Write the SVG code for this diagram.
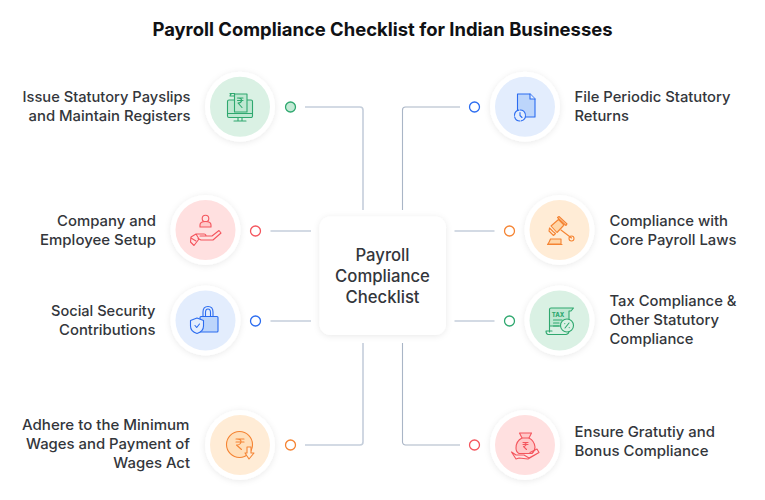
<svg xmlns="http://www.w3.org/2000/svg" width="765" height="500" viewBox="0 0 765 500">
<style>
text{font-family:"Inter","Liberation Sans",sans-serif;fill:#33363b;font-weight:500;font-size:14.7px}
.t{font-weight:700;font-size:18.45px;fill:#101114;text-anchor:middle}
.c{font-size:16.7px;text-anchor:middle}
.l{text-anchor:end}
.con{fill:none;stroke:#c5cedb;stroke-width:1.6}
.thin{stroke:#a9b5c6;stroke-width:1.1}
.halo{fill:#fff;filter:url(#s)}
.dot{fill:#fff;stroke-width:1.3}
.ic{fill:none;stroke-width:1.1;stroke-linejoin:round;stroke-linecap:round}
.g{stroke:#2fa86f}.r{stroke:#f4555d}.b{stroke:#2b6cf0}.o{stroke:#f58433}
</style>
<defs>
<filter id="s" x="-30%" y="-30%" width="160%" height="160%"><feDropShadow dx="0" dy="1" stdDeviation="3" flood-color="#000" flood-opacity=".09"/></filter>
</defs>
<rect width="765" height="500" fill="#fff"/>
<text class="t" x="382.500" y="36">Payroll Compliance Checklist for Indian Businesses</text>
<g id="connectors">
<path class="con" d="M305 107H360a3 3 0 0 1 3 3V210"/>
<path class="con" d="M305 445H360a3 3 0 0 0 3-3V343"/>
<path class="con thin" d="M460 107H405.500a3 3 0 0 0-3 3V210"/>
<path class="con thin" d="M460 445H405.500a3 3 0 0 1-3-3V343"/>
<path class="con" d="M270.500 231H311M270.500 321H311M454.500 231H494.500M454.500 321H494.500"/>
</g>
<g id="center"><rect x="319.500" y="216.500" width="126.500" height="118.500" rx="11" class="halo"/>
<text class="c" x="382.500" y="260.500">Payroll</text><text class="c" x="382.500" y="282">Compliance</text><text class="c" x="382.500" y="303.300">Checklist</text></g>

<g id="n1"><circle cx="240" cy="106.700" r="35" class="halo"/><circle cx="240" cy="106.700" r="30" fill="#daf1e4"/>
<circle cx="290.500" cy="107" r="5" stroke="#2fa86f" stroke-width="1.300" fill="#c4ead6"/>
<g class="ic g"><path d="M234 100H229a1.500 1.500 0 0 0-1.500 1.500V116a1.500 1.500 0 0 0 1.500 1.500H251a1.500 1.500 0 0 0 1.500-1.500V101.500a1.500 1.500 0 0 0-1.500-1.500H247" fill="#bfe8d2"/><path d="M234.500 94H247V112H234.500Z" fill="#bfe8d2"/><path d="M230 93.500H234.500V96H230Q230 94 232 93.500M227.500 113.500H252.500M238 118V121M242 118V121M234 121H246"/><path d="M237.500 98H243M237.500 100.500H243M238 98Q242 98 241.500 101Q241 103 238 103L242 107.500"/></g>
<text class="l" x="190.500" y="102" textLength="168" lengthAdjust="spacingAndGlyphs">Issue Statutory Payslips</text><text class="l" x="190.500" y="121" textLength="162" lengthAdjust="spacingAndGlyphs">and Maintain Registers</text></g>

<g id="n2"><circle cx="205.500" cy="230" r="35" class="halo"/><circle cx="205.500" cy="230" r="30" fill="#ffe0e0"/>
<circle cx="255.500" cy="231" r="5" class="dot" stroke="#f4555d"/>
<g class="ic r"><circle cx="205.500" cy="218.500" r="3.300"/><path d="M200 227V225Q200 221.500 205.500 221.500T211 225V227Z" fill="#ffc9c9"/><path d="M196 234H204Q206 234 206 236H200M206 236H212L219 230.500L221 233L213 240H201L198 238.500M191 237L196 234L199 239L194 245.500L190.500 242Z"/><path d="M191 238L196 241"/></g>
<text class="l" x="156" y="225.700" textLength="99" lengthAdjust="spacingAndGlyphs">Company and</text><text class="l" x="156" y="244.700" textLength="116" lengthAdjust="spacingAndGlyphs">Employee Setup</text></g>

<g id="n3"><circle cx="205.500" cy="320.500" r="35" class="halo"/><circle cx="205.500" cy="320.500" r="30" fill="#e3edfd"/>
<circle cx="255.500" cy="321" r="5" class="dot" stroke="#2b6cf0"/>
<g class="ic b"><rect x="200" y="316.500" width="18" height="15.500" rx="1" fill="#bcd5fb"/><path d="M203 316.500V312Q203 306.500 208 306.500T213 312V316.500M205.500 316.500V312.500Q205.500 309 208 309T210.500 312.500V316.500"/><path d="M190.500 320.500L197 318L203.500 320.500V326Q203.500 331.500 197 333.500Q190.500 331.500 190.500 326Z" fill="#e3edfd"/><path d="M195 325.500L196.700 327.500L199.500 324"/></g>
<text class="l" x="155.500" y="316" textLength="104.500" lengthAdjust="spacingAndGlyphs">Social Security</text><text class="l" x="155.500" y="335" textLength="96.500" lengthAdjust="spacingAndGlyphs">Contributions</text></g>

<g id="n4"><circle cx="240" cy="445" r="35" class="halo"/><circle cx="240" cy="445" r="30" fill="#ffecd6"/>
<circle cx="290.500" cy="445" r="5" class="dot" stroke="#f58433"/>
<g class="ic o"><circle cx="239.500" cy="444.500" r="13" fill="#ffdfba"/><path d="M236 439H244M236 442H244M236.500 439Q241.500 439 241 442Q240.500 445 236.500 445L241.500 449.500"/><path d="M247 447H251V453H254L249 459L245 453H247Z" fill="#ffecd6"/></g>
<text class="l" x="189.500" y="430" textLength="167.500" lengthAdjust="spacingAndGlyphs">Adhere to the Minimum</text><text class="l" x="190" y="449.300" textLength="164" lengthAdjust="spacingAndGlyphs">Wages and Payment of</text><text class="l" x="190" y="468.300" textLength="76.700" lengthAdjust="spacingAndGlyphs">Wages Act</text></g>

<g id="n5"><circle cx="525" cy="106.700" r="35" class="halo"/><circle cx="525" cy="106.700" r="30" fill="#e3edfd"/>
<circle cx="474.500" cy="107" r="5" class="dot" stroke="#2b6cf0"/>
<g class="ic b"><path d="M517.500 94H530L535 99V117H517.500Z" fill="#bcd5fb"/><path d="M530 94V99H535" fill="#e3edfd"/><circle cx="520" cy="115.500" r="5.500" fill="#e3edfd" stroke-dasharray="7 1.500"/><path d="M520 112.500V115.500L522 117.500"/></g>
<text x="574.500" y="101.500" textLength="156" lengthAdjust="spacingAndGlyphs">File Periodic Statutory</text><text x="574.500" y="120.500" textLength="54.500" lengthAdjust="spacingAndGlyphs">Returns</text></g>

<g id="n6"><circle cx="559.500" cy="230" r="35" class="halo"/><circle cx="559.500" cy="230" r="30" fill="#ffecd6"/>
<circle cx="509.500" cy="231" r="5" class="dot" stroke="#f58433"/>
<g class="ic o"><path d="M551 226L558.500 219.500L564 225L557 232.500Z" fill="#ffd6a8"/><path d="M549.500 228L553 231.500L555.500 233.500L553.500 235.500L549 231L549.500 228M557.500 217.500L566 225.500L567 224L559 216.500ZM561 230L571.500 238"/><circle cx="571.500" cy="238.500" r="2.500"/><path d="M549 244H561V239H550.500Q549.500 242 547.500 244.500H562" fill="#ffd6a8"/></g>
<text x="609.500" y="225.500" textLength="118.500" lengthAdjust="spacingAndGlyphs">Compliance with</text><text x="609.500" y="244.500" textLength="127" lengthAdjust="spacingAndGlyphs">Core Payroll Laws</text></g>

<g id="n7"><circle cx="559.500" cy="320.500" r="35" class="halo"/><circle cx="559.500" cy="320.500" r="30" fill="#daf1e4"/>
<circle cx="509.500" cy="321" r="5" class="dot" stroke="#2fa86f"/>
<g class="ic g"><path d="M549.500 332V309.500Q549.500 308 551 308H573.500L571 311H569V326H549.500" fill="#bfe8d2"/><path d="M552 331H546Q546 334 548 334.500H566Q569 334 569 331"/><path d="M553.500 323H559M553.500 326H559M553.500 320H562"/><circle cx="567" cy="325.500" r="6.500" fill="#daf1e4"/><path d="M565 328L569 323M564.800 323.500V323.600M569.200 327.500V327.600"/></g>
<text x="551.800" y="316.500" style="font-size:6px;font-weight:800;fill:#2fa86f" textLength="12.500">TAX</text>
<text x="609.500" y="305.500" textLength="127" lengthAdjust="spacingAndGlyphs">Tax Compliance &amp;</text><text x="609.500" y="324.500" textLength="109.500" lengthAdjust="spacingAndGlyphs">Other Statutory</text><text x="609.500" y="343.500" textLength="84" lengthAdjust="spacingAndGlyphs">Compliance</text></g>

<g id="n8"><circle cx="525" cy="445" r="35" class="halo"/><circle cx="525" cy="445" r="30" fill="#ffe0e0"/>
<circle cx="474.500" cy="445" r="5" class="dot" stroke="#f4555d"/>
<g class="ic r"><path d="M522 433L519.500 433L522 438Q516 441 516 448Q516 452 519 453.500H532Q535 451 535 447Q534.500 441 529 438L531.500 433L528.500 433Z" fill="#ffc9c9"/><path d="M522 438H529M523 442.500H528M523 444.500H528M523.500 442.500Q526.500 442.500 526 445Q525 446.500 523.500 446.500L526.500 449.500"/><path d="M511.500 452L516 455H524L529 458L539 452.500L537 449L530 452.500M511.500 452L516 459L519 458L528 459L539 452.500"/></g>
<text x="574.500" y="436.500" textLength="140.500" lengthAdjust="spacingAndGlyphs">Ensure Gratutiy and</text><text x="574.500" y="455.500" textLength="134" lengthAdjust="spacingAndGlyphs">Bonus Compliance</text></g>
</svg>
